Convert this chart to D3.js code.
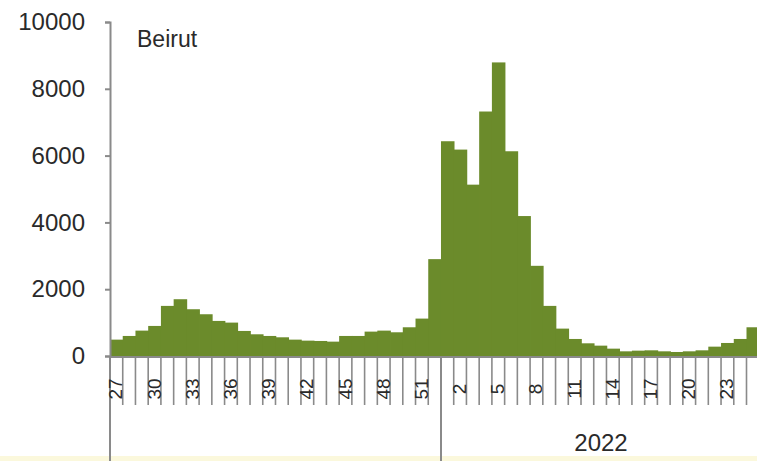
<!DOCTYPE html>
<html>
<head>
<meta charset="utf-8">
<script src="https://cdn.jsdelivr.net/npm/d3@7"></script>
<style>
  html, body { margin: 0; padding: 0; background: #ffffff; overflow: hidden; }
  svg { display: block; }
  text { font-family: "Liberation Sans", Arial, sans-serif; fill: #2a2a2a; }
</style>
</head>
<body>
<svg id="chart" width="757" height="461"></svg>
<script>
// ---- data ----
const weeks2021 = [27,28,29,30,31,32,33,34,35,36,37,38,39,40,41,42,43,44,45,46,47,48,49,50,51,52];
const values2021 = [490,600,760,900,1500,1700,1400,1250,1050,1000,750,650,600,560,490,460,450,430,600,600,730,760,710,860,1120,2900];
const weeks2022 = [1,2,3,4,5,6,7,8,9,10,11,12,13,14,15,16,17,18,19,20,21,22,23,24,25];
const values2022 = [6430,6180,5130,7320,8790,6130,4190,2700,1500,820,510,380,310,220,140,160,170,140,120,140,170,280,390,510,860];
const yTicks = [0,2000,4000,6000,8000,10000];
const chartTitle = "Beirut";
const yearLabel = "2022";

const rows = [
  ...weeks2021.map((w, i) => ({ key: "2021-" + w, week: w, value: values2021[i] })),
  ...weeks2022.map((w, i) => ({ key: "2022-" + w, week: w, value: values2022[i] }))
];

const svg = d3.select("#chart");
const W = 757, H = 461;
const x0 = 110, step = 12.73;
const baseY = 356, topY = 22;

const x = d3.scaleBand()
  .domain(rows.map(d => d.key))
  .range([x0, x0 + step * rows.length])
  .paddingInner(0).paddingOuter(0);
const y = d3.scaleLinear().domain([0, 10000]).range([baseY, topY]);

// bottom pale strip
svg.append("rect").attr("x", 0).attr("y", 456).attr("width", W).attr("height", 5).attr("fill", "#fbf8dc");

// bars
svg.append("g").selectAll("rect").data(rows).join("rect")
  .attr("x", d => x(d.key))
  .attr("y", d => y(d.value))
  .attr("width", x.bandwidth() + 0.8)
  .attr("height", d => y(0) - y(d.value))
  .attr("fill", "#6b8b2b");

const axisColor = "#8a8a8a";

// y axis
const yAxis = d3.axisLeft(y).tickValues(yTicks).tickSize(5).tickPadding(20).tickFormat(d3.format("d"));
const gy = svg.append("g").attr("transform", `translate(${x0},0)`).call(yAxis);
gy.select(".domain").attr("stroke", axisColor).attr("stroke-width", 2);
gy.selectAll(".tick line").attr("stroke", axisColor).attr("stroke-width", 2);
gy.selectAll(".tick text").style("font-size", "24px").attr("fill", "#2a2a2a");

// x baseline
svg.append("line").attr("x1", x0).attr("x2", W).attr("y1", baseY + 1).attr("y2", baseY + 1)
  .attr("stroke", axisColor).attr("stroke-width", 2);

// category separators
const bounds = rows.map(d => x(d.key)).concat([x0 + step * rows.length]);
svg.append("g").selectAll("line").data(bounds).join("line")
  .attr("x1", d => d).attr("x2", d => d)
  .attr("y1", baseY + 1)
  .attr("y2", (d, i) => (i === 0 || i === weeks2021.length) ? H : 405)
  .attr("stroke", axisColor)
  .attr("stroke-width", (d, i) => (i === 0 || i === weeks2021.length) ? 2 : 1.6);

// week labels (every third)
svg.append("g").selectAll("text").data(rows.filter((d, i) => i % 3 === 0)).join("text")
  .attr("transform", d => `translate(${x(d.key) + x.bandwidth() / 2 + 6},389) rotate(-90)`)
  .attr("text-anchor", "middle")
  .style("font-size", "19px")
  .text(d => d.week);

// year label
const x2022 = x("2022-1");
svg.append("text")
  .attr("x", (x2022 + W) / 2 + 2).attr("y", 451)
  .attr("text-anchor", "middle")
  .style("font-size", "24px")
  .text(yearLabel);

// title
svg.append("text").attr("x", 137).attr("y", 47).style("font-size", "23px").text(chartTitle);
</script>
</body>
</html>
